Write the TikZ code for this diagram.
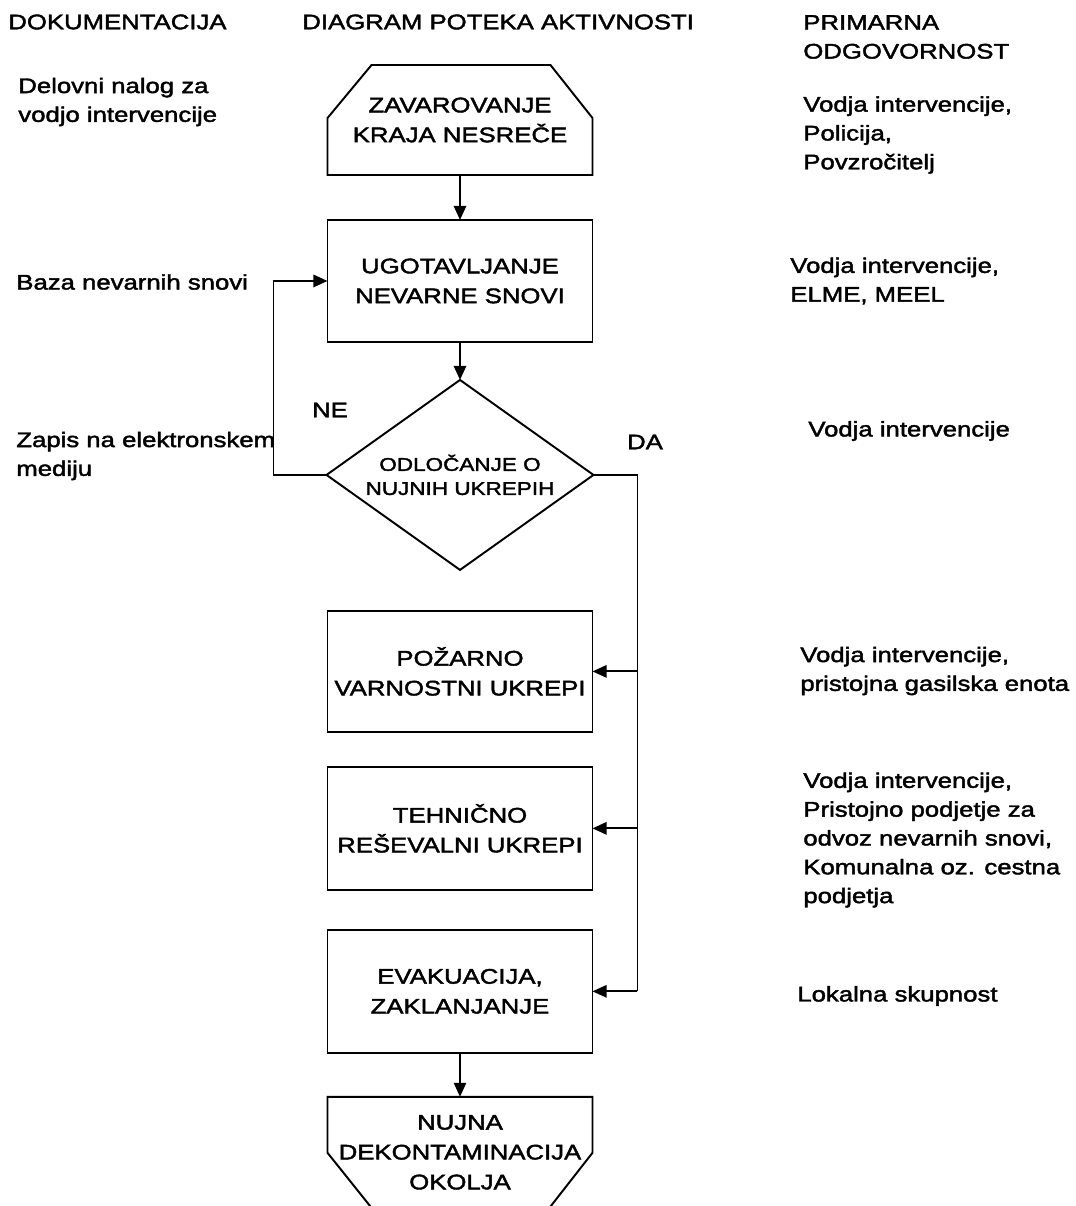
\documentclass[tikz,border=0pt]{standalone}
\usepackage{fontspec}
\setmainfont{Liberation Sans}[FakeStretch=1.22, FakeBold=2]
\usepackage{tikz}
\usetikzlibrary{positioning,calc,arrows.meta,shapes.geometric}
\newcommand{\boxfont}{\fontsize{12}{17}\selectfont}
\newcommand{\diamfont}{\fontsize{10.5}{13.7}\selectfont}
\newcommand{\colfont}{\fontsize{12}{16.4}\selectfont}
\tikzset{dbox/.style={draw, line width=1.1pt, inner sep=0pt, outer sep=0pt, minimum width=5.3cm, minimum height=2.44cm, align=center, font=\boxfont}}
\tikzset{dshape/.style={dbox, draw=none}}
\tikzset{ddiam/.style={draw, diamond, shape aspect=1.4, line width=1.1pt, inner sep=0pt, outer sep=0pt, minimum width=5.34cm, minimum height=3.8cm, align=center, font=\diamfont}}
\tikzset{dtxt/.style={inner sep=0pt, align=left, anchor=west, font=\colfont}}
\tikzset{dline/.style={draw, line width=1.1pt}}
\tikzset{arr/.style={dline, -{Triangle[length=8pt, width=7pt]}}}

\begin{document}
\begin{tikzpicture}[x=0.02cm, y=-0.02cm]
	\useasboundingbox (0,0) rectangle (1075,1206);
	% column heads
	\node[dtxt] (hdok) at (8,22) {DOKUMENTACIJA};
	\node[dtxt] (hdia) at (302,22) {DIAGRAM POTEKA AKTIVNOSTI};
	\node[dtxt] (hodg) at (803,37) {PRIMARNA\\ODGOVORNOST};
%
	\node[dshape, minimum height=2.2cm] (zav) at (460,120) {ZAVAROVANJE\\KRAJA NESREČE};
	\node[dbox, below=.9cm of zav] (ugo) {UGOTAVLJANJE\\NEVARNE SNOVI};
	\node[ddiam, below=.76cm of ugo] (odl) {ODLOČANJE O\\NUJNIH UKREPIH};
	\node[dbox, below=.82cm of odl, minimum height=2.42cm] (poz) {POŽARNO\\VARNOSTNI UKREPI};
	\node[dbox, below=.7cm of poz, minimum height=2.46cm] (teh) {TEHNIČNO\\REŠEVALNI UKREPI};
	\node[dbox, below=.8cm of teh, minimum height=2.46cm] (eva) {EVAKUACIJA,\\ZAKLANJANJE};
	\node[dshape, below=.88cm of eva, minimum height=2.22cm] (nuj) {NUJNA\\DEKONTAMINACIJA\\OKOLJA};
	% cut corners of first and last step
	\draw[dline] (zav.south west) -- ([yshift=1.14cm]zav.south west) -- ([xshift=.88cm]zav.north west)
		-- ([xshift=-.84cm]zav.north east) -- ([yshift=1.14cm]zav.south east) -- (zav.south east) -- cycle;
	\draw[dline] (nuj.north west) -- ([yshift=-1.12cm]nuj.north west) -- ([xshift=.88cm]nuj.south west)
		-- ([xshift=-.86cm]nuj.south east) -- ([yshift=-1.12cm]nuj.north east) -- (nuj.north east) -- cycle;
%
	\draw[arr] (zav.south) -- (ugo.north);
	\draw[arr] (ugo.south) -- (odl.north);
	\draw[arr] (odl.west) -- ++(-53,0) |- (ugo.west);
	\node (ne) at (330,410) {\colfont NE};
	\draw[dline] (odl.east) -- ++(44,0) coordinate (dtop) -- (dtop |- eva.east);
	\node (da) at (645,442) {\colfont DA};
	\draw[arr] (dtop |- poz.east) -- (poz.east);
	\draw[arr] (dtop |- teh.east) -- (teh.east);
	\draw[arr] (dtop |- eva.east) -- (eva.east);
	\draw[arr] (eva.south) -- (nuj.north);
	% documentation
	\node[dtxt] (dnal) at (18,102) {Delovni nalog za\\vodjo intervencije};
	\node[dtxt] (dbaz) at (16,282) {Baza nevarnih snovi};
	\node[dtxt] (dzap) at (16,456) {Zapis na elektronskem\\mediju};
	% responsibility
	\node[dtxt] (rpol) at (803,135) {Vodja intervencije,\\Policija,\\Povzročitelj};
	\node[dtxt] (relm) at (790,281) {Vodja intervencije,\\ELME, MEEL};
	\node[dtxt] (rvod) at (808,431) {Vodja intervencije};
	\node[dtxt] (rgas) at (800,671) {Vodja intervencije,\\pristojna gasilska enota};
	\node[dtxt] (rpod) at (803,840) {Vodja intervencije,\\Pristojno podjetje za\\odvoz nevarnih snovi,\\Komunalna oz. cestna\\podjetja};
	\node[dtxt] (rlok) at (797,996) {Lokalna skupnost};
\end{tikzpicture}
\end{document}
